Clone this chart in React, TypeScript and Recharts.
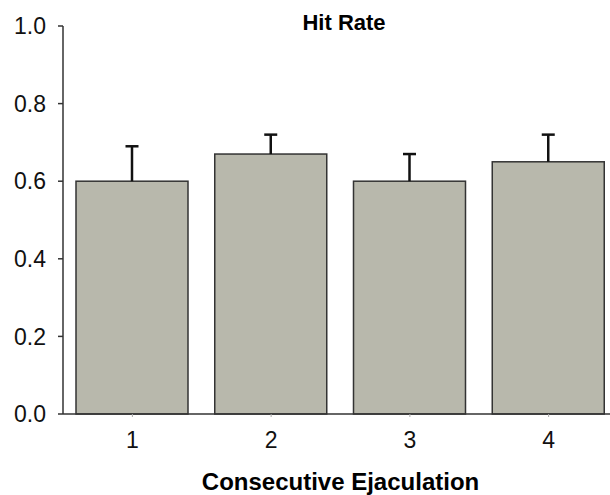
import { Bar, BarChart, Label, XAxis, YAxis } from "recharts"

const categories = ["1", "2", "3", "4"]
const hitRate = [0.6, 0.67, 0.6, 0.65]
const sem = [0.09, 0.05, 0.07, 0.07]
const yTicks = [0, 0.2, 0.4, 0.6, 0.8, 1.0]

const data = categories.map((c, i) => ({
  name: c,
  value: hitRate[i],
  err: sem[i],
}))

const font = "'Liberation Sans', Arial, sans-serif"

// bar with an upper-only error whisker, scaled from the bar's own pixel height
function BarWithError(props: any) {
  const { x, y, width, height, payload } = props
  const pxPerUnit = height / payload.value
  const top = y - payload.err * pxPerUnit
  const cx = x + width / 2
  return (
    <g>
      <rect x={x} y={y} width={width} height={height} fill="#b8b8ac" stroke="#333" strokeWidth={1.5} />
      <line x1={cx} x2={cx} y1={y} y2={top} stroke="#111" strokeWidth={2.5} />
      <line x1={cx - 6.5} x2={cx + 6.5} y1={top} y2={top} stroke="#111" strokeWidth={2.5} />
    </g>
  )
}

export default function App() {
  return (
    <div
      style={{
        position: "absolute",
        left: 0,
        top: 0,
        width: 610,
        height: 495,
        overflow: "hidden",
        background: "#fff",
        fontFamily: font,
      }}
    >
      <BarChart
        width={640}
        height={495}
        data={data}
        margin={{ top: 26, right: 22, bottom: 0, left: 8 }}
        barCategoryGap={0}
      >
        <XAxis
          dataKey="name"
          height={81}
          axisLine={{ stroke: "#333", strokeWidth: 1.5 }}
          tickLine={{ stroke: "#aaa" }}
          tickSize={3}
          tickMargin={15}
          tick={{ fill: "#111", fontSize: 23, fontFamily: font }}
        >
          <Label
            value="Consecutive Ejaculation"
            position="insideBottom"
            offset={5}
            style={{ fill: "#000", fontSize: 24, fontWeight: "bold", fontFamily: font }}
          />
        </XAxis>
        <YAxis
          width={55}
          domain={[0, 1]}
          ticks={yTicks}
          tickFormatter={(v: number) => v.toFixed(1)}
          axisLine={{ stroke: "#333", strokeWidth: 1.5 }}
          tickLine={{ stroke: "#333", strokeWidth: 1.5 }}
          tickSize={5}
          tickMargin={12}
          tick={{ fill: "#111", fontSize: 23, fontFamily: font }}
        />
        <Bar dataKey="value" barSize={112} shape={BarWithError} isAnimationActive={false} />
      </BarChart>
      <svg
        width={610}
        height={495}
        style={{ position: "absolute", left: 0, top: 0, pointerEvents: "none" }}
      >
        <text x={344} y={30} textAnchor="middle" fontSize={22} fontWeight="bold" fontFamily={font} fill="#000">
          Hit Rate
        </text>
      </svg>
    </div>
  )
}
